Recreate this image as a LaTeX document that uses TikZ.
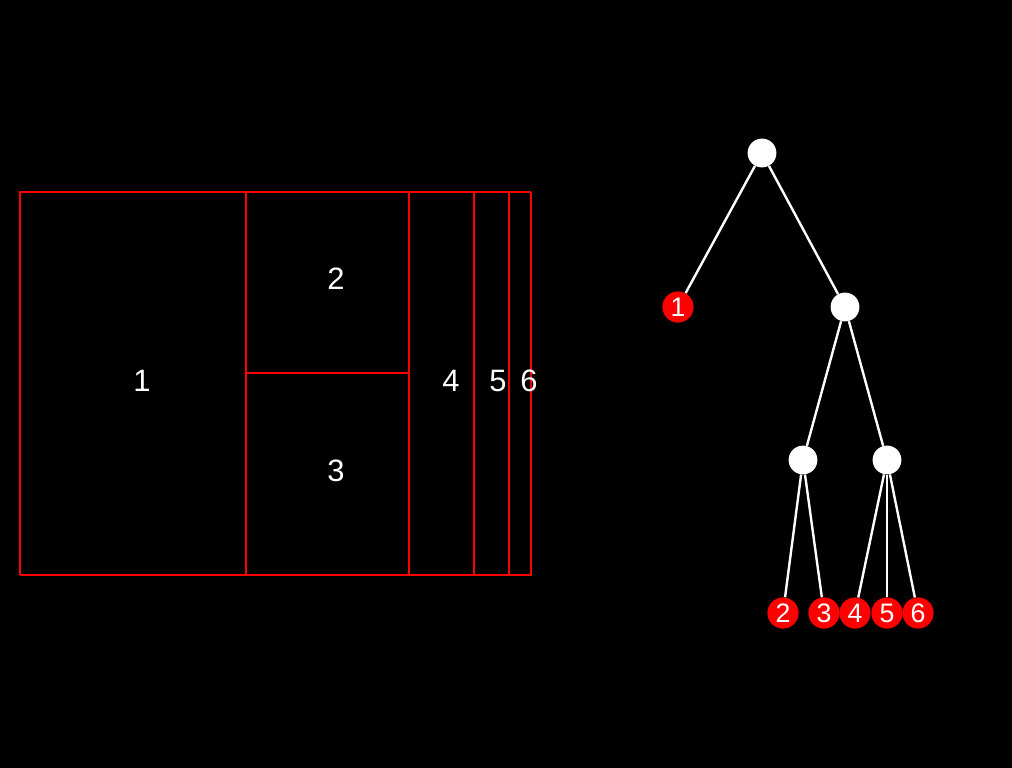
\documentclass[tikz,border=0pt]{standalone}
\usepackage{fontspec}
\setmainfont{Liberation Sans}
\begin{document}
\begin{tikzpicture}[x=0.025cm,y=-0.025cm,
		box/.style={draw=red, line width=1.6pt},
		thinbox/.style={draw=red, line width=0.8pt},
		cell/.style={text=white, font=\fontsize{22}{26}\selectfont},
		inner/.style={circle, fill=white, minimum size=0.72cm, inner sep=0pt},
		leaf/.style={circle, fill=red, text=white, minimum size=0.78cm, inner sep=0pt, font=\fontsize{19}{22}\selectfont},
		edge/.style={draw=white, line width=1.7pt}]
			\fill[black] (0,0) rectangle (1012,768);
			
			% treemap
			\draw[box] (20,575) -- (20,192) -- (531,192);
			\draw[thinbox] (531,192) -- (531,575) -- (20,575);
			\foreach \x in {246, 409, 474, 509}{
				\draw[box] (\x,192) -- (\x,575);
			}
			\draw[box] (246,373) -- (409,373);
			
			\foreach \n/\x/\y in {1/142/381, 2/336/279, 3/336/471, 4/451/381, 5/498/381, 6/529/381}{
				\node[cell] (c\n) at (\x,\y) {\n};
			}
			
			% tree
			\node[inner] (root) at (762,153) {};
			\node[inner] (a) at (845,307) {};
			\node[inner] (b) at (803,460) {};
			\node[inner] (c) at (887,460) {};
			\node[leaf] (l1) at (678,307) {1};
			\foreach \n/\x in {2/783, 3/824, 4/855, 5/887, 6/918}{
				\node[leaf] (l\n) at (\x,613) {\n};
			}
			
			\draw[edge] (root) -- (l1);
			\draw[edge] (root) -- (a);
			\draw[edge] (a) -- (b);
			\draw[edge] (a) -- (c);
			\draw[edge] (b) -- (l2);
			\draw[edge] (b) -- (l3);
			\foreach \n in {4, 5, 6}{
				\draw[edge] (c) -- (l\n);
			}
		\end{tikzpicture}
\end{document}
